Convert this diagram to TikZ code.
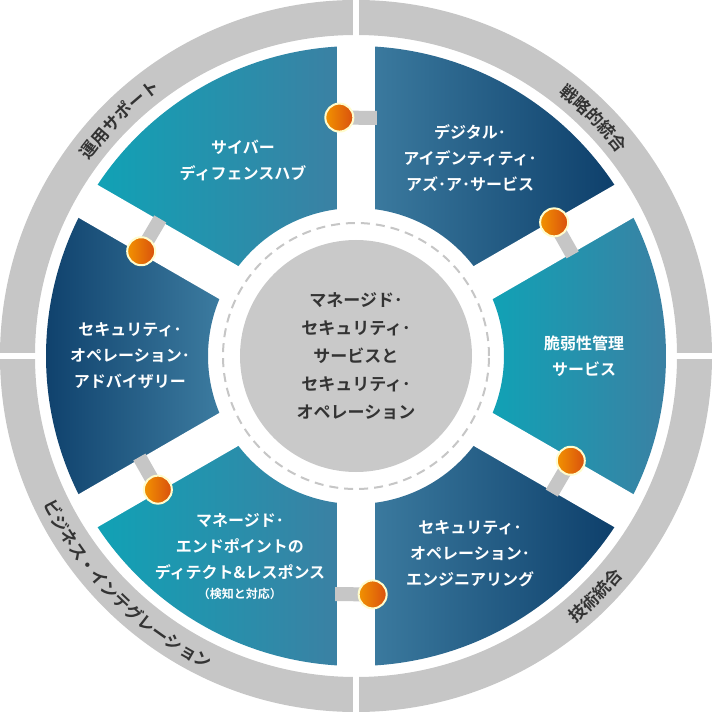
\documentclass[tikz,border=0pt]{standalone}
\usepackage{fontspec}
\setmainfont{Noto Sans CJK JP}[BoldFont={Noto Sans CJK JP Bold}]
\usepackage{tikz}
\usetikzlibrary{positioning, decorations.text}

\definecolor{cyanseg}{HTML}{0FA3B6}
\definecolor{steelseg}{HTML}{3E7EA2}
\definecolor{navyseg}{HTML}{0C3D69}
\definecolor{ringgray}{HTML}{C6C6C6}
\definecolor{disc}{HTML}{C9C9C9}
\definecolor{txtdark}{HTML}{333333}
\definecolor{dotA}{HTML}{F29200}
\definecolor{dotB}{HTML}{D9500E}

\tikzset{
  segtext/.style={text=white, font=\fontsize{16}{26}\selectfont\bfseries, align=center},
  ringlabel/.style={decorate, decoration={text along path, text align=center,
      text color=txtdark, text={|\fontsize{17}{17}\selectfont\bfseries|#1}}},
  dotball/.style={circle, draw=yellow!20, line width=2pt, minimum size=28pt, inner sep=0pt,
      left color=dotA, right color=dotB},
}

\begin{document}
\begin{tikzpicture}[x=1pt, y=1pt]
  \useasboundingbox (-356,-356) rectangle (356,356);

  % Aussenring
  \fill[ringgray, even odd rule] (0,0) circle (356) (0,0) circle (321);
  \foreach \a in {0,90,180,270}
    \draw[white, line width=6pt] (\a:318) -- (\a:360);

  \path[ringlabel={運用サポート}] (180:331) arc[start angle=180, end angle=90, radius=331];
  \path[ringlabel={戦略的統合}] (90:331) arc[start angle=90, end angle=0, radius=331];
  \path[ringlabel={技術統合}] (270:346) arc[start angle=270, end angle=360, radius=346];
  \path[ringlabel={ビジネス・インテグレーション}] (180:346) arc[start angle=180, end angle=270, radius=346];

  % Segmente
  \foreach \a/\c/\d in {90/cyanseg/steelseg, 30/steelseg/navyseg,
      -30/cyanseg/steelseg, -90/steelseg/navyseg, -150/cyanseg/steelseg,
      150/navyseg/steelseg}
    \shade[left color=\c, right color=\d]
      (\a:148) -- (\a:310) arc[start angle=\a, end angle=\a+60, radius=310]
      -- (\a+60:148) arc[start angle=\a+60, end angle=\a, radius=148] -- cycle;
  \foreach \g in {90,30,-30,-90,-150,150}
    \draw[white, line width=38pt] (\g:140) -- (\g:316);

  % Verbinder
  \foreach \g [count=\i] in {90,30,-30,-90,-150,150} {
    \coordinate (bar\i) at (\g-5:239);
    \coordinate (dot\i) at (\g+4:239);
  }
  \foreach \i in {1,...,6} {
    \draw[ringgray, line width=14pt] (dot\i) -- (bar\i);
    \node[dotball] (ball\i) at (dot\i) {};
  }

  % Mitte
  \fill[disc] (0,0) circle (116);
  \draw[ringgray, line width=2pt, dash pattern=on 9pt off 6pt] (0,0) circle (133);
  \node[text=txtdark, font=\fontsize{17}{28}\selectfont\bfseries, align=center] (center)
    {マネージド･\\セキュリティ･\\サービスと\\セキュリティ･\\オペレーション};

  % Texte
  \node[segtext] (cdh) at (120:226) {サイバー\\ディフェンスハブ};
  \node[segtext] (dia) at (60:228) {デジタル･\\アイデンティティ･\\アズ･ア･サービス};
  \node[segtext] (vms) at (0:228) {脆弱性管理\\サービス};
  \node[segtext] (soe) at (-60:228) {セキュリティ･\\オペレーション･\\エンジニアリング};
  \node[segtext] (mdr) at (-120:232) {マネージド･\\エンドポイントの\\ディテクト\&レスポンス\\[-6pt]{\fontsize{12}{14}\selectfont （検知と対応）}};
  \node[segtext] (soa) at (180:226) {セキュリティ･\\オペレーション･\\アドバイザリー};
\end{tikzpicture}
\end{document}
